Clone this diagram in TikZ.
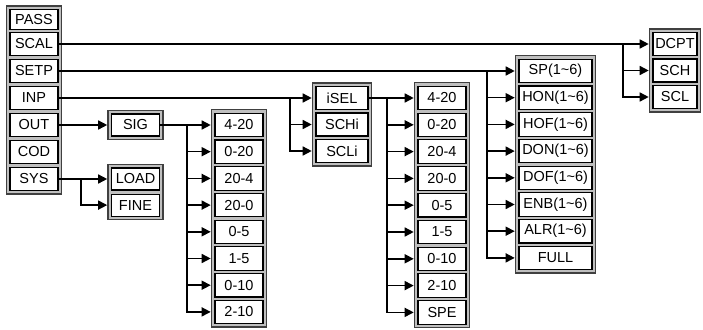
\documentclass[tikz,border=0pt]{standalone}
\usepackage{fontspec}
\setmainfont{Liberation Sans}
\usetikzlibrary{arrows.meta, positioning, fit, backgrounds, calc}

\begin{document}
\begin{tikzpicture}[x=1pt, y=-1pt,
  cell/.style={rectangle, draw=black, line width=1.1pt, fill=white,
               minimum height=23pt, inner sep=0pt,
               font=\fontsize{14.5}{16}\selectfont},
  grp/.style={rectangle, draw=black!75, line width=1.5pt, fill=black!25,
              inner sep=3pt},
  arr/.style={-{Triangle[length=9pt,width=9pt]}, line width=1.5pt},
  wire/.style={line width=1.5pt}
]
  \useasboundingbox (0,0) rectangle (703,329);

  % main menu
  \node[cell, minimum width=48pt, minimum height=20pt] (pass) at (34,19.5) {PASS};
  \foreach \t [count=\i] in {SCAL,SETP,INP,OUT,COD,SYS}
    \node[cell, minimum width=48pt] (m\i) at (34,{17+27*\i}) {\t};

  % OUT / SYS submenus
  \node[cell, minimum width=48pt, minimum height=22pt] (sig) at (135.5,125) {SIG};
  \node[cell, minimum width=48pt, minimum height=22pt] (load) at (135.5,179) {LOAD};
  \node[cell, minimum width=48pt, minimum height=22pt, below=3pt of load] (fine) {FINE};

  % signal ranges
  \foreach \t [count=\k] in {4-20,0-20,20-4,20-0,0-5,1-5,0-10,2-10}
    \node[cell, minimum width=48pt, minimum height=23.5pt] (la\k) at (239,{125+26.7*(\k-1)}) {\t};

  % INP submenu
  \foreach \t [count=\k] in {iSEL,SCHi,SCLi}
    \node[cell, minimum width=52pt] (in\k) at (342,{98+26.5*(\k-1)}) {\t};
  \foreach \t [count=\k] in {4-20,0-20,20-4,20-0,0-5,1-5,0-10,2-10,SPE}
    \node[cell, minimum width=48pt, minimum height=23.5pt] (lb\k) at (442,{98+26.8*(\k-1)}) {\t};

  % SETP submenu
  \foreach \t [count=\k] in {SP,HON,HOF,DON,DOF,ENB,ALR}
    \node[cell, minimum width=73pt, minimum height=23.5pt] (lc\k) at (555.5,{71+26.7*(\k-1)}) {\t(1\textasciitilde 6)};
  \node[cell, minimum width=73pt, minimum height=23.5pt] (lc8) at (555.5,{71+26.7*7}) {FULL};

  % SCAL submenu
  \foreach \t [count=\k] in {DCPT,SCH,SCL}
    \node[cell, minimum width=44pt] (ld\k) at (675,{44+26.5*(\k-1)}) {\t};

  % frames
  \begin{scope}[on background layer]
    \node[grp, fit=(pass)(m6)] (fm) {};
    \node[grp, fit=(sig)] (fsig) {};
    \node[grp, fit=(load)(fine)] (fsys) {};
    \node[grp, fit=(la1)(la8)] (fa) {};
    \node[grp, fit=(in1)(in3)] (fin) {};
    \node[grp, fit=(lb1)(lb9)] (fb) {};
    \node[grp, fit=(lc1)(lc8)] (fc) {};
    \node[grp, fit=(ld1)(ld3)] (fd) {};
  \end{scope}

  % branch points
  \coordinate (bsys) at (81,0);
  \coordinate (ba) at (187,0);
  \coordinate (bin) at (290,0);
  \coordinate (bb) at (387,0);
  \coordinate (bc) at (487,0);
  \coordinate (bd) at (623,0);

  % connectors
  \draw[arr] (m4.east) -- (m4.east -| fsig.west);
  \draw[arr] (m6.east) -- (m6.east -| fsys.west);
  \draw[arr] (m6.east -| bsys) |- (fine.west -| fsys.west);

  \draw[wire] (sig.east) -- (sig.east -| ba);
  \foreach \k in {1,...,8}
    \draw[arr] (sig.east -| ba) |- (la\k.west -| fa.west);

  \draw[wire] (m3.east) -- (m3.east -| bin);
  \foreach \k in {1,...,3}
    \draw[arr] (m3.east -| bin) |- (in\k.west -| fin.west);

  \draw[wire] (in1.east) -- (in1.east -| bb);
  \foreach \k in {1,...,9}
    \draw[arr] (in1.east -| bb) |- (lb\k.west -| fb.west);

  \draw[wire] (m2.east) -- (m2.east -| bc);
  \foreach \k in {1,...,8}
    \draw[arr] (m2.east -| bc) |- (lc\k.west -| fc.west);

  \draw[wire] (m1.east) -- (m1.east -| bd);
  \foreach \k in {1,...,3}
    \draw[arr] (m1.east -| bd) |- (ld\k.west -| fd.west);
\end{tikzpicture}
\end{document}
